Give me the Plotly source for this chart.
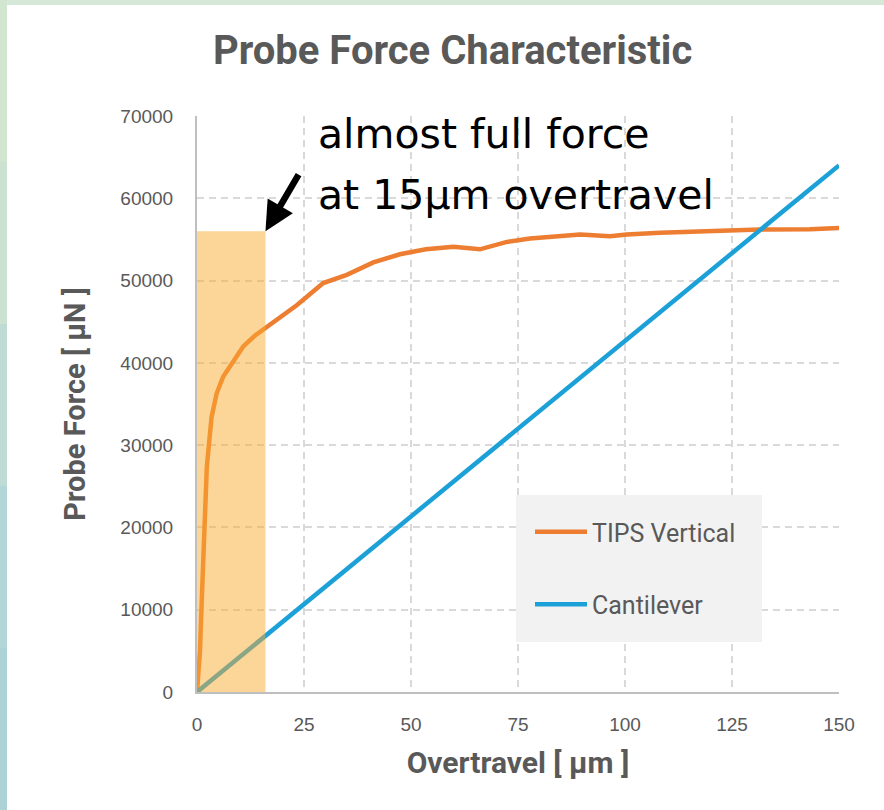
import plotly.graph_objects as go

# ---- data ----
tips_x = [0, 0.7, 1.1, 1.6, 2.3, 3.4, 4.6, 6.1, 8.5, 10.8, 13.5, 15.9, 23.3, 29.5, 35, 41.2,
          47.4, 53.5, 59.9, 66.1, 72.4, 77.8, 84, 89.5, 96.5, 100.4, 108.2, 119.9, 131.5, 143.2, 150]
tips_y = [0, 5000, 11000, 19300, 27400, 33400, 36300, 38300, 40300, 42000, 43300, 44200, 47000,
          49700, 50700, 52200, 53200, 53800, 54100, 53800, 54700, 55100, 55300, 55600, 55400,
          55600, 55800, 56000, 56200, 56250, 56400]
cant_x = [0, 150]
cant_y = [0, 64000]

x_ticks = [0, 25, 50, 75, 100, 125, 150]
y_ticks = [0, 10000, 20000, 30000, 40000, 50000, 60000, 70000]

highlight_x = [0, 16]
highlight_y = [0, 56000]

W, H = 884, 810
L, R, T, B = 197, 45, 116, 118
PW, PH = W - L - R, H - T - B


def px(xp):
    return (xp - L) / PW


def py(yp):
    return (H - B - yp) / PH


GRAY = "#595959"

fig = go.Figure()
fig.add_trace(go.Scatter(x=tips_x, y=tips_y, mode="lines", name="TIPS Vertical",
                         line=dict(color="#ED7D31", width=4.5), legendgroup="a"))
fig.add_trace(go.Scatter(x=cant_x, y=cant_y, mode="lines", name="Cantilever",
                         line=dict(color="#1CA0D8", width=4.5), legendgroup="b"))

shapes = []
# background strips
shapes.append(dict(type="rect", xref="paper", yref="paper", x0=px(0), x1=px(W), y0=py(5), y1=py(0),
                   fillcolor="#D6E8D8", line=dict(width=0), layer="below"))
strip_cols = ["#D2E5CF", "#CBE2D0", "#BEDCD5", "#B2D6D8", "#AAD2D7"]
for i, c in enumerate(strip_cols):
    y0 = i * H / len(strip_cols)
    y1 = (i + 1) * H / len(strip_cols)
    shapes.append(dict(type="rect", xref="paper", yref="paper", x0=px(0), x1=px(7), y0=py(y1), y1=py(y0),
                       fillcolor=c, line=dict(width=0), layer="below"))
# highlight rectangle
shapes.append(dict(type="rect", xref="x", yref="y", x0=highlight_x[0], x1=highlight_x[1],
                   y0=highlight_y[0], y1=highlight_y[1],
                   fillcolor="rgba(250,172,50,0.5)", line=dict(width=0), layer="above"))
# legend box
shapes.append(dict(type="rect", xref="paper", yref="paper", x0=px(516), x1=px(762), y0=py(642), y1=py(495),
                   fillcolor="#F2F2F2", line=dict(width=0), layer="above"))

annotations = [
    dict(text="almost full force", xref="paper", yref="paper", x=px(316), y=py(134), xanchor="left",
         yanchor="middle", showarrow=False, font=dict(family="DejaVu Sans", size=41, color="black")),
    dict(text="at 15µm overtravel", xref="paper", yref="paper", x=px(316), y=py(195), xanchor="left",
         yanchor="middle", showarrow=False, font=dict(family="DejaVu Sans", size=41, color="black")),
    dict(text="", x=highlight_x[1], y=highlight_y[1], xref="x", yref="y", showarrow=True,
         ax=34, ay=-58, arrowhead=2, arrowwidth=6.5, arrowsize=0.9, arrowcolor="black", standoff=0),
]

fig.update_layout(
    width=W, height=H,
    margin=dict(l=L, r=R, t=T, b=B),
    paper_bgcolor="white", plot_bgcolor="white",
    title=dict(text="<b>Probe Force Characteristic</b>", x=0.512, xanchor="center", y=1 - 50 / H,
               yanchor="middle", font=dict(family="Roboto", size=40, color=GRAY)),
    xaxis=dict(range=[0, 150], tickvals=x_ticks, ticktext=[str(v) for v in x_ticks],
               showgrid=True, gridcolor="#D9D9D9", gridwidth=1.5, griddash="7px,5px",
               zeroline=False, showline=True, linecolor="#BFBFBF", linewidth=2,
               ticks="", ticklabelstandoff=14,
               tickfont=dict(family="Liberation Sans", size=19, color=GRAY),
               title=dict(text="<b>Overtravel [ µm ]</b>", standoff=18,
                          font=dict(family="Roboto", size=30, color=GRAY))),
    yaxis=dict(range=[0, 70000], tickvals=y_ticks, tickformat="d",
               showgrid=True, gridcolor="#D9D9D9", gridwidth=1.5, griddash="7px,5px",
               zeroline=False, showline=True, linecolor="#BFBFBF", linewidth=2,
               ticks="", ticklabelstandoff=18,
               tickfont=dict(family="Liberation Sans", size=19, color=GRAY),
               title=dict(text="<b>Probe Force [ µN ]</b>", standoff=26,
                          font=dict(family="Roboto", size=29, color=GRAY))),
    legend=dict(x=px(530), y=py(509), xanchor="left", yanchor="top", bgcolor="rgba(0,0,0,0)",
                font=dict(family="Roboto", size=25, color=GRAY), itemwidth=52,
                traceorder="grouped", tracegroupgap=37),
    shapes=shapes,
    annotations=annotations,
)

fig.write_html("out.html")
